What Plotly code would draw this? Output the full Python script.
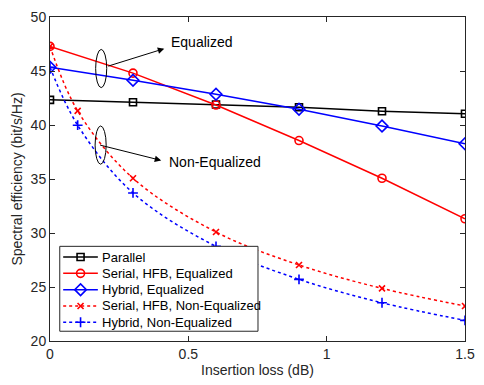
import plotly.graph_objects as go

# Insertion loss sample points (dB)
loss_eq = [0, 0.3, 0.6, 0.9, 1.2, 1.5]
loss_neq = [0, 0.1, 0.3, 0.6, 0.9, 1.2, 1.5]

# Spectral efficiency (bit/s/Hz)
parallel = [42.33, 42.1, 41.9, 41.64, 41.28, 41.04]
serial_eq = [47.28, 44.8, 41.85, 38.56, 35.07, 31.32]
hybrid_eq = [45.35, 44.14, 42.85, 41.46, 39.9, 38.26]
serial_neq = [47.28, 41.31, 35.07, 30.09, 27.04, 24.87, 23.24]
hybrid_neq = [45.35, 39.98, 33.71, 28.76, 25.71, 23.54, 21.91]

FONT = "Liberation Sans, Arial, sans-serif"
TXT = "#262626"

# Plot-area geometry in pixels (used to place the hand-built legend)
W, H = 484, 385
ML, MR, MT, MB = 50, 9, 9, 44
PW, PH = W - ML - MR, H - MT - MB

def px_x(p):
    return (p - ML) / PW

def px_y(p):
    return (H - MB - p) / PH

series = [
    dict(x=loss_eq, y=parallel, name="Parallel", color="black",
         symbol="square-open", size=7, dash="solid", shape="linear"),
    dict(x=loss_eq, y=serial_eq, name="Serial, HFB, Equalized", color="red",
         symbol="circle-open", size=8, dash="solid", shape="linear"),
    dict(x=loss_eq, y=hybrid_eq, name="Hybrid, Equalized", color="blue",
         symbol="diamond-open", size=9, dash="solid", shape="linear"),
    dict(x=loss_neq, y=serial_neq, name="Serial, HFB, Non-Equalized", color="red",
         symbol="x-thin-open", size=6, dash="dot", shape="spline"),
    dict(x=loss_neq, y=hybrid_neq, name="Hybrid, Non-Equalized", color="blue",
         symbol="cross-thin-open", size=7, dash="dot", shape="spline"),
]

fig = go.Figure()

for s in series:
    fig.add_trace(go.Scatter(
        x=s["x"], y=s["y"], name=s["name"], mode="lines+markers",
        showlegend=False,
        line=dict(color=s["color"], width=1.5, dash=s["dash"], shape=s["shape"]),
        marker=dict(symbol=s["symbol"], size=s["size"], color=s["color"],
                    line=dict(color=s["color"], width=1.6)),
    ))

# Legend box, drawn by hand on an overlay axis (0..1 over the plot area)
LEG_L, LEG_R, LEG_T, LEG_B = 60, 263, 244, 331
ROW0, ROW_STEP = 255, 16.7
bx = [px_x(LEG_L), px_x(LEG_R), px_x(LEG_R), px_x(LEG_L), px_x(LEG_L)]
by = [px_y(LEG_B), px_y(LEG_B), px_y(LEG_T), px_y(LEG_T), px_y(LEG_B)]
fig.add_trace(go.Scatter(
    x=bx, y=by, xaxis="x2", yaxis="y2", mode="lines", fill="toself",
    fillcolor="white", line=dict(color=TXT, width=1),
    showlegend=False, hoverinfo="skip",
))
for i, s in enumerate(series):
    ry = px_y(ROW0 + i * ROW_STEP)
    fig.add_trace(go.Scatter(
        x=[px_x(63.5), px_x(99)], y=[ry, ry], xaxis="x2", yaxis="y2",
        mode="lines", showlegend=False, hoverinfo="skip",
        line=dict(color=s["color"], width=1.5, dash=s["dash"]),
    ))
    fig.add_trace(go.Scatter(
        x=[px_x(81.3)], y=[ry], xaxis="x2", yaxis="y2", mode="markers",
        showlegend=False, hoverinfo="skip",
        marker=dict(symbol=s["symbol"], size=s["size"], color=s["color"],
                    line=dict(color=s["color"], width=1.6)),
    ))
    fig.add_annotation(xref="paper", yref="paper", x=px_x(101.5), y=ry,
                       text=s["name"], showarrow=False, xanchor="left",
                       yanchor="middle",
                       font=dict(family=FONT, size=13, color="black"))

# Ellipses grouping the curve families
for cx, cy in [(0.185, 45.23), (0.183, 38.14)]:
    fig.add_shape(type="circle", xref="x", yref="y",
                  x0=cx - 0.02, x1=cx + 0.02, y0=cy - 1.77, y1=cy + 1.77,
                  line=dict(color="black", width=1))

# Arrows with labels
fig.add_annotation(x=0.413, y=47.07, ax=0.205, ay=45.41, xref="x", yref="y",
                   axref="x", ayref="y", showarrow=True, arrowhead=2,
                   arrowsize=1.3, arrowwidth=1, arrowcolor="black", text="")
fig.add_annotation(xref="paper", yref="paper", x=px_x(172), y=px_y(35),
                   text="Equalized", showarrow=False, xanchor="left",
                   yanchor="middle",
                   font=dict(family=FONT, size=14, color="black"))
fig.add_annotation(x=0.402, y=36.72, ax=0.176, ay=38.17, xref="x", yref="y",
                   axref="x", ayref="y", showarrow=True, arrowhead=2,
                   arrowsize=1.3, arrowwidth=1, arrowcolor="black", text="")
fig.add_annotation(xref="paper", yref="paper", x=px_x(170), y=px_y(158),
                   text="Non-Equalized", showarrow=False, xanchor="left",
                   yanchor="middle",
                   font=dict(family=FONT, size=14, color="black"))

axis_common = dict(
    showgrid=False, zeroline=False, showline=True, linecolor=TXT,
    linewidth=1, mirror="ticks", ticks="inside", ticklen=5,
    tickcolor=TXT, tickfont=dict(family=FONT, size=14, color=TXT),
)

fig.update_xaxes(range=[0, 1.5], tickvals=[0, 0.5, 1, 1.5],
                 ticktext=["0", "0.5", "1", "1.5"],
                 title=dict(text="Insertion loss (dB)", standoff=4,
                            font=dict(family=FONT, size=14, color=TXT)),
                 **axis_common)
fig.update_yaxes(range=[20, 50], tickvals=[20, 25, 30, 35, 40, 45, 50],
                 title=dict(text="Spectral efficiency (bit/s/Hz)", standoff=4,
                            font=dict(family=FONT, size=14, color=TXT)),
                 **axis_common)

fig.update_layout(
    width=W, height=H,
    margin=dict(l=ML, r=MR, t=MT, b=MB),
    paper_bgcolor="white", plot_bgcolor="white",
    showlegend=False,
    xaxis2=dict(overlaying="x", range=[0, 1], visible=False),
    yaxis2=dict(overlaying="y", range=[0, 1], visible=False),
)

fig.write_html("out.html")
